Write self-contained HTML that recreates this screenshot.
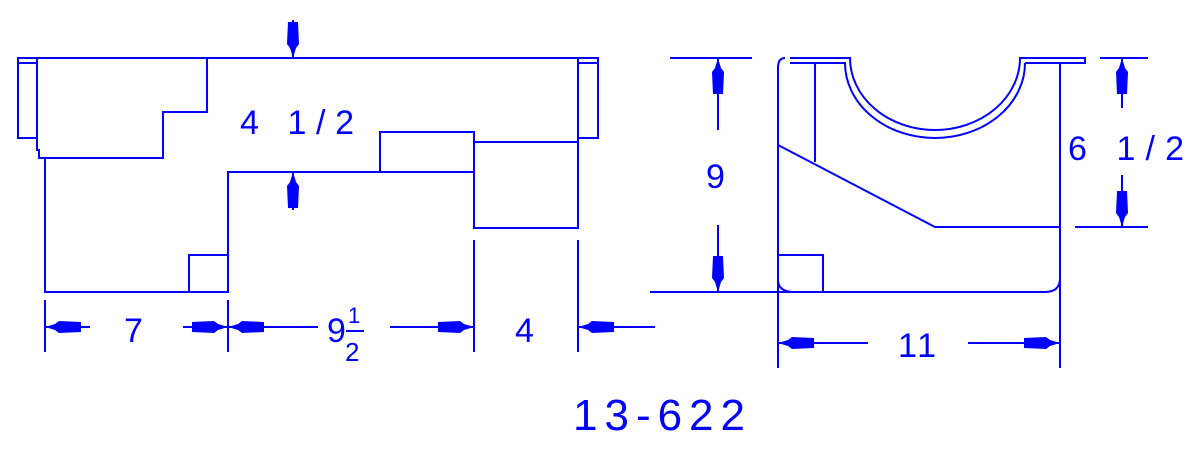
<!DOCTYPE html>
<html><head><meta charset="utf-8"><style>html,body{margin:0;padding:0;background:#fff}svg{display:block}</style></head>
<body>
<svg width="1200" height="449" viewBox="0 0 1200 449" xmlns="http://www.w3.org/2000/svg">
<defs>
<polygon id="ar" points="0,0 -10,-3 -14,-6 -36,-5 -36,5 -14,6 -10,3" fill="#0000ff"/>
</defs>
<g stroke="#0000ff" stroke-width="2" fill="none">
<!-- left view -->
<line x1="18" y1="58" x2="598" y2="58"/>
<rect x="18" y="58" width="19" height="80"/>
<line x1="18" y1="63" x2="37" y2="63"/>
<rect x="578" y="58" width="20" height="80"/>
<line x1="578" y1="63" x2="598" y2="63"/>
<polyline points="37,58 37,150 39,150 39,158 163,158 163,112 207,112 207,58"/>
<polyline points="45,158 45,292 228,292 228,172 474,172"/>
<rect x="189" y="255" width="39" height="37"/>
<rect x="380" y="132" width="94" height="40"/>
<polyline points="474,132 474,228 578,228 578,58"/>
<line x1="474" y1="142" x2="578" y2="142"/>
<line x1="293" y1="20" x2="293" y2="58"/>
<line x1="293" y1="172" x2="293" y2="210"/>
<line x1="45" y1="300" x2="45" y2="352"/>
<line x1="228" y1="300" x2="228" y2="352"/>
<line x1="474" y1="240" x2="474" y2="352"/>
<line x1="578" y1="240" x2="578" y2="352"/>
<line x1="45" y1="327" x2="90" y2="327"/>
<line x1="183" y1="327" x2="228" y2="327"/>
<line x1="228" y1="327" x2="318" y2="327"/>
<line x1="390" y1="327" x2="474" y2="327"/>
<line x1="578" y1="327" x2="655" y2="327"/>
<!-- right view -->
<path d="M790,58 H850 A85,72 0 0 0 1020,58 H1085 V63 H1025"/>
<path d="M1025,63 A90,75 0 0 1 845,63 H790"/>
<path d="M785,58 Q778,58 778,68 V280 Q778,292 795,292 H1045 Q1060,292 1060,278 V63"/>
<line x1="815" y1="63" x2="815" y2="162"/>
<polyline points="778,145 935,227 1060,227"/>
<rect x="778" y="255" width="45" height="37"/>
<line x1="670" y1="58" x2="752" y2="58"/>
<line x1="650" y1="292" x2="778" y2="292"/>
<line x1="718" y1="58" x2="718" y2="130"/>
<line x1="718" y1="225" x2="718" y2="292"/>
<line x1="1100" y1="58" x2="1148" y2="58"/>
<line x1="1075" y1="227" x2="1148" y2="227"/>
<line x1="1122" y1="58" x2="1122" y2="108"/>
<line x1="1122" y1="175" x2="1122" y2="227"/>
<line x1="778" y1="292" x2="778" y2="368"/>
<line x1="1060" y1="280" x2="1060" y2="368"/>
<line x1="778" y1="343" x2="868" y2="343"/>
<line x1="968" y1="343" x2="1060" y2="343"/>
</g>
<use href="#ar" transform="translate(293,58) rotate(90)"/>
<use href="#ar" transform="translate(293,172) rotate(-90)"/>
<use href="#ar" transform="translate(45,327) rotate(180)"/>
<use href="#ar" transform="translate(228,327)"/>
<use href="#ar" transform="translate(228,327) rotate(180)"/>
<use href="#ar" transform="translate(474,327)"/>
<use href="#ar" transform="translate(578,327) rotate(180)"/>
<use href="#ar" transform="translate(718,58) rotate(-90)"/>
<use href="#ar" transform="translate(718,292) rotate(90)"/>
<use href="#ar" transform="translate(1122,58) rotate(-90)"/>
<use href="#ar" transform="translate(1122,227) rotate(90)"/>
<use href="#ar" transform="translate(778,343) rotate(180)"/>
<use href="#ar" transform="translate(1060,343)"/>
<g fill="#0000ff" font-family="Liberation Sans, sans-serif" font-size="34">
<text x="240" y="134" textLength="114" lengthAdjust="spacing">4 1/2</text>
<text x="124" y="342">7</text>
<text x="327" y="342">9</text>
<text x="348" y="323" font-size="22">1</text>
<line x1="346" y1="331" x2="364" y2="331" stroke="#0000ff" stroke-width="2"/>
<text x="345" y="361" font-size="26">2</text>
<text x="515" y="342">4</text>
<text x="706" y="188">9</text>
<text x="1068" y="160" textLength="116" lengthAdjust="spacing">6 1/2</text>
<text x="898" y="357" textLength="38" lengthAdjust="spacing">11</text>
<text x="573" y="430" font-size="44" textLength="172" lengthAdjust="spacing">13-622</text>
</g>
</svg>
</body></html>
